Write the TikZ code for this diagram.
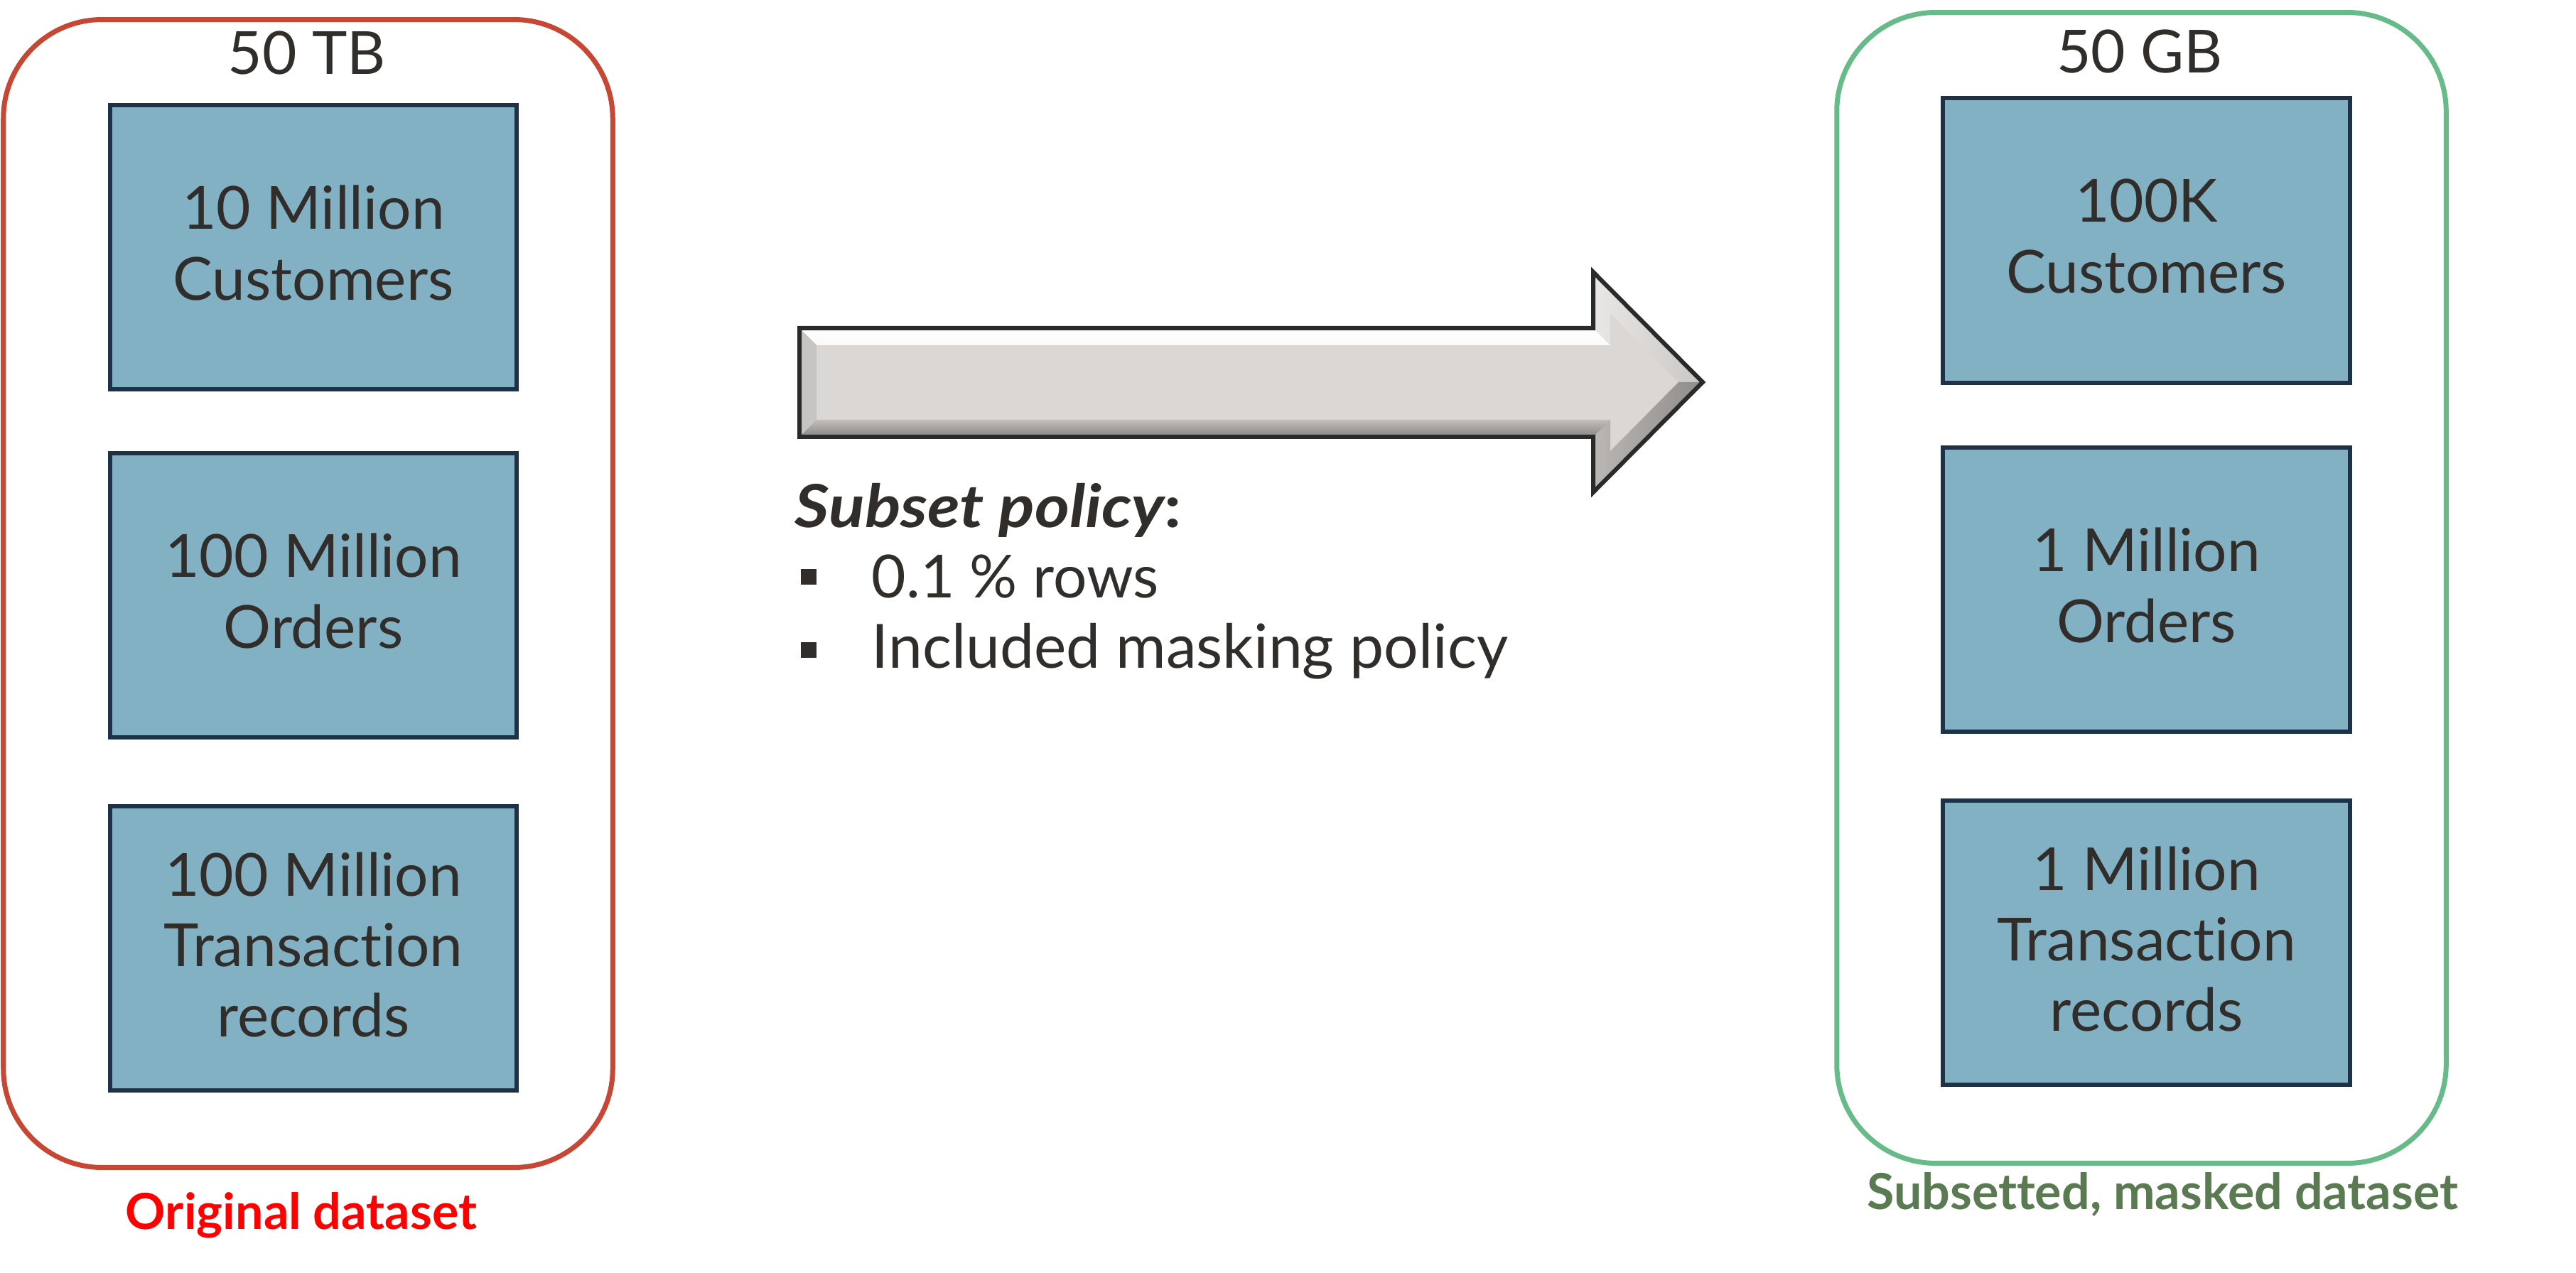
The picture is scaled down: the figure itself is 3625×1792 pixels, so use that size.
\documentclass[tikz,border=0pt]{standalone}
\usepackage{graphicx}
\usepackage{fontspec}
\setmainfont{Lato}[Ligatures={NoCommon}]
\definecolor{txtdark}{HTML}{312D2A}
\definecolor{redborder}{HTML}{C74634}
\definecolor{greenborder}{HTML}{66BB88}
\definecolor{boxfill}{HTML}{82B1C3}
\definecolor{boxline}{HTML}{1D3246}
\definecolor{labred}{HTML}{FF0000}
\definecolor{labgreen}{HTML}{5A7A51}
\definecolor{arrowfill}{HTML}{DBD7D4}
\definecolor{arrowline}{HTML}{2A2A2A}
\tikzset{
  container/.style={draw, line width=0.07cm, rounded corners=1.39cm, minimum width=8.57cm, inner sep=0pt},
  databox/.style={draw=boxline, fill=boxfill, line width=0.06cm, minimum width=5.72cm, minimum height=4.0cm,
     inner sep=0pt},
  boxtext/.style={inner sep=0pt, align=center, text=txtdark, font=\fontsize{23.8}{28.2}\selectfont},
  bigtext/.style={text=txtdark, inner sep=0pt, font=\fontsize{23.8}{28.2}\selectfont},
  labeltext/.style={inner sep=0pt, anchor=base, font=\fontsize{19.9}{23}\selectfont\bfseries},
  bulletsq/.style={fill=txtdark, minimum size=0.22cm, inner sep=0pt},
}
\begin{document}
\begin{tikzpicture}[x=0.01cm,y=-0.01cm]
\useasboundingbox (0,0) rectangle (3625,1792);
\fill[white] (0,0) rectangle (3625,1792);

% containers
\node[container, draw=redborder, minimum height=16.15cm] (leftbox) at (433.5,835.5) {};
\node[container, draw=greenborder, minimum height=16.19cm] (rightbox) at (3013.5,827.5) {};

% titles
\node[bigtext, anchor=base] (tb) at (432,105) {50 TB};
\node[bigtext, anchor=base] (gb) at (3011,103) {50 GB};

% left data boxes
\node[databox] (l1) at (441,348) {};
\node[databox] (l2) at (441,838) {};
\node[databox] (l3) at (441,1335) {};
\node[boxtext] (l1t) at ([yshift=0.06cm]l1.center) {10 Million\\Customers};
\node[boxtext] (l2t) at ([yshift=0.06cm]l2.center) {100 Million\\Orders};
\node[boxtext] (l3t) at ([yshift=0.05cm]l3.center) {100 Million\\Transaction\\records};

% right data boxes
\node[databox] (r1) at (3020.5,338.5) {};
\node[databox] (r2) at (3020.5,830) {};
\node[databox] (r3) at (3020.5,1327) {};
\node[boxtext] (r1t) at ([yshift=0.06cm]r1.center) {100K\\Customers};
\node[boxtext] (r2t) at ([yshift=0.06cm]r2.center) {1 Million\\Orders};
\node[boxtext] (r3t) at ([yshift=0.05cm]r3.center) {1 Million\\Transaction\\records};

% arrow
\coordinate (A) at (1125,462);
\coordinate (B) at (2242,462);
\coordinate (C) at (2242,383);
\coordinate (T) at (2396,538);
\coordinate (D) at (2242,693);
\coordinate (E) at (2242,615);
\coordinate (F) at (1125,615);
\fill[arrowfill] (A) -- (B) -- (C) -- (T) -- (D) -- (E) -- (F) -- cycle;
\begin{scope}
  \clip (A) -- (B) -- (C) -- (T) -- (D) -- (E) -- (F) -- cycle;
  \shade[top color=white, bottom color=white!85!arrowfill] (1125,462) -- (2250,462) -- (2266,486) -- (1149,486) -- cycle;
  \fill[arrowfill!80!black!70!white] (1125,462) -- (1149,486) -- (1149,591) -- (1125,615) -- cycle;
  \shade[top color=arrowfill!88!black, bottom color=arrowfill!62!black] (1125,615) -- (1149,591) -- (2266,591) -- (2250,615) -- cycle;
  \shade[left color=arrowfill!60!white, right color=arrowfill!92!black] (2242,462) -- (2242,383) -- (2396,538) -- (2362,538) -- (2266,441) -- (2266,486) -- cycle;
  \shade[left color=arrowfill!85!black, right color=arrowfill!65!black] (2242,615) -- (2242,693) -- (2396,538) -- (2362,538) -- (2266,635) -- (2266,591) -- cycle;
\end{scope}
\draw[arrowline, line width=0.06cm, line join=miter] (A) -- (B) -- (C) -- (T) -- (D) -- (E) -- (F) -- cycle;

% subset policy text
\node[bigtext, anchor=base west] (sp) at (1118,743) {\scalebox{1.12}[1]{\bfseries\itshape Subset policy\upshape:}};
\node[bulletsq] (b1) at (1138,812) {};
\node[bulletsq] (b2) at (1138,915) {};
\node[bigtext, anchor=base west] (p1) at (1226,842) {0.1 \% rows};
\node[bigtext, anchor=base west] (p2) at (1226,940) {\fontsize{24.4}{28.2}\selectfont Included masking policy};

% labels
\node[labeltext, text=labred] (origlab) at (424,1730) {Original dataset};
\node[labeltext, text=labgreen] (sublab) at (3043,1702) {Subsetted, masked dataset};
\end{tikzpicture}
\end{document}
